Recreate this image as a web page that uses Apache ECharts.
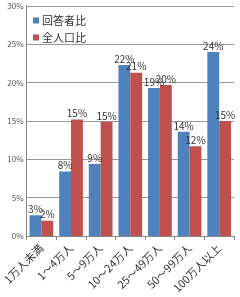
<!DOCTYPE html>
<html><head><meta charset="utf-8">
<script src="https://cdn.jsdelivr.net/npm/echarts@6/dist/echarts.min.js"></script>
<style>html,body{margin:0;padding:0;background:#fff}#c{width:240px;height:297px}</style>
</head><body><div id="c"></div>
<script>
const categories = ["1万人未満","1～4万人","5～9万人","10～24万人","25～49万人","50～99万人","100万人以上"];
const respondents = [2.7, 8.4, 9.4, 22.3, 19.3, 13.6, 24.0];
const population = [2.0, 15.2, 14.9, 21.3, 19.7, 11.7, 15.0];
const seriesNames = ["回答者比","全人口比"];
const yTicks = {min: 0, max: 30, interval: 5};

const font = "'Noto Sans CJK JP', sans-serif";
const chart = echarts.init(document.getElementById('c'), null, {renderer: 'canvas'});
const lbl = {show: true, position: 'top', distance: 1, fontSize: 10, color: '#333', fontFamily: font,
  formatter: p => Math.round(p.value) + '%'};
chart.setOption({
  animation: false,
  grid: {left: 26, right: 6, top: 6, bottom: 61, containLabel: false},
  legend: {orient: 'vertical', left: 28, top: 10, itemWidth: 6, itemHeight: 6, itemGap: 6,
    icon: 'rect', textStyle: {fontSize: 11, color: '#333', fontFamily: font, padding: [0,0,0,-2]},
    data: seriesNames},
  xAxis: {type: 'category', data: categories,
    axisLine: {lineStyle: {color: '#888'}},
    axisTick: {show: true, lineStyle: {color: '#888'}, length: 4},
    axisLabel: {rotate: 45, fontSize: 11, color: '#333', fontFamily: font, margin: 10, interval: 0}},
  yAxis: {type: 'value', min: yTicks.min, max: yTicks.max, interval: yTicks.interval,
    axisLine: {show: true, lineStyle: {color: '#888'}},
    axisTick: {show: false},
    splitLine: {lineStyle: {color: '#999'}},
    axisLabel: {fontSize: 8, color: '#555', fontFamily: font, margin: 3, formatter: v => v + '%'}},
  series: [
    {name: seriesNames[0], type: 'bar', data: respondents, barGap: '0%', barCategoryGap: '20%',
      itemStyle: {color: '#4F81BD'}, label: lbl},
    {name: seriesNames[1], type: 'bar', data: population,
      itemStyle: {color: '#C0504D'}, label: lbl}
  ]
});
</script></body></html>
